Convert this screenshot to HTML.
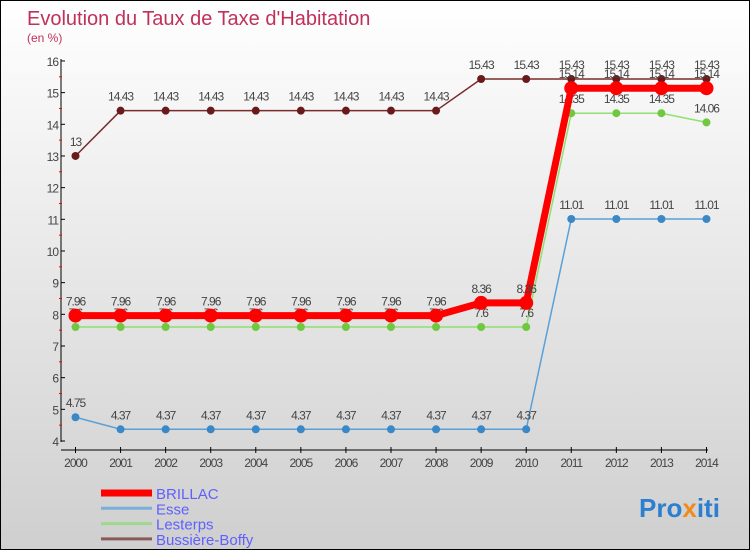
<!DOCTYPE html>
<html><head><meta charset="utf-8"><style>
body{margin:0}
#c{width:748px;height:548px;border:1px solid #000;background:linear-gradient(#ffffff,#cfcfcf);position:relative;font-family:"Liberation Sans",sans-serif;overflow:hidden}
</style></head><body>
<div id="c">
<svg id="s" width="748" height="548" xmlns="http://www.w3.org/2000/svg">
<text x="26" y="24" font-size="20" fill="#c0305a">Evolution du Taux de Taxe d'Habitation</text>
<text x="26" y="41" font-size="12" fill="#c0305a">(en %)</text>
<g id="axes"></g><g id="series"></g>
<text x="200" y="50" font-size="0"></text>
<text x="638" y="516" font-size="26" font-weight="bold" fill="#2a7fd0">Pro<tspan fill="#f08a1c">x</tspan>iti</text>
</svg>
</div>
<script>
const years=[2000,2001,2002,2003,2004,2005,2006,2007,2008,2009,2010,2011,2012,2013,2014];
const brillac=[7.96,7.96,7.96,7.96,7.96,7.96,7.96,7.96,7.96,8.36,8.36,15.14,15.14,15.14,15.14];
const esse=[4.75,4.37,4.37,4.37,4.37,4.37,4.37,4.37,4.37,4.37,4.37,11.01,11.01,11.01,11.01];
const lesterps=[7.6,7.6,7.6,7.6,7.6,7.6,7.6,7.6,7.6,7.6,7.6,14.35,14.35,14.35,14.06];
const bussiere=[13,14.43,14.43,14.43,14.43,14.43,14.43,14.43,14.43,15.43,15.43,15.43,15.43,15.43,15.43];
const yTicks=[4,5,6,7,8,9,10,11,12,13,14,15,16];
const NS="http://www.w3.org/2000/svg";
const X=i=>74.5+i*45.07, Y=v=>440-(v-4)*31.67;
function el(t,a,p){const e=document.createElementNS(NS,t);for(const k in a)e.setAttribute(k,a[k]);p.appendChild(e);return e;}
const ax=document.getElementById('axes'),sg=document.getElementById('series');
let l=el('line',{x1:60,y1:58,x2:60,y2:441,stroke:'#000'},ax);


l=el('line',{x1:60,y1:449,x2:707,y2:449,stroke:'#000'},ax);


yTicks.forEach(v=>{
 el('line',{x1:60,y1:Y(v),x2:64,y2:Y(v),stroke:'#000'},ax);
 if(v<16)el('line',{x1:58,y1:Y(v+0.5),x2:61,y2:Y(v+0.5),stroke:'#f00'},ax);
 const t=el('text',{x:57,y:Y(v)+5,'font-size':12,fill:'#444','text-anchor':'end','letter-spacing':'-1'},ax);t.textContent=v;
 
 
});
years.forEach((y,i)=>{
 el('line',{x1:X(i),y1:446,x2:X(i),y2:452,stroke:'#000'},ax);
 const t=el('text',{x:X(i),y:466,'font-size':12,fill:'#444','text-anchor':'middle','letter-spacing':'-1'},ax);t.textContent=y;
 
 
});
function series(d,name,col,w,r,dot){
 const g=el('g',{},sg);
 
 
 el('polyline',{points:d.map((v,i)=>X(i)+','+Y(v)).join(' '),fill:'none',stroke:col,'stroke-width':w},g);
 d.forEach((v,i)=>{
  const c=el('circle',{cx:X(i),cy:Y(v),r:r,fill:dot},g);
  
  
  const t=el('text',{x:X(i),y:Y(v)-10,'font-size':12,fill:'#444','text-anchor':'middle','letter-spacing':'-1'},g);t.textContent=v;
 });
}
series(bussiere,'bussiere-boffy','#7a2a2a',1.5,4,'#6a1a1a');
series(esse,'esse','#5aa0d8',1.5,4,'#3a88c8');
series(lesterps,'lesterps','#90e070',1.5,4,'#70c840');
series(brillac,'brillac','#f00',7,7,'#f00');
const names=['BRILLAC','Esse','Lesterps','Bussière-Boffy'],cols=['#f00','#7ab0d8','#a0d890','#8a5a5a'],ws=[7,3,3,3];
names.forEach((n,i)=>{
 const y=492+i*15.3;
 const g=el('g',{},sg);
 
 
 el('line',{x1:100,y1:y,x2:151,y2:y,stroke:cols[i],'stroke-width':ws[i]},g);
 const t=el('text',{x:155,y:y+6,'font-size':15,fill:'#6060ff'},g);t.textContent=n;
});
</script>
</body></html>
